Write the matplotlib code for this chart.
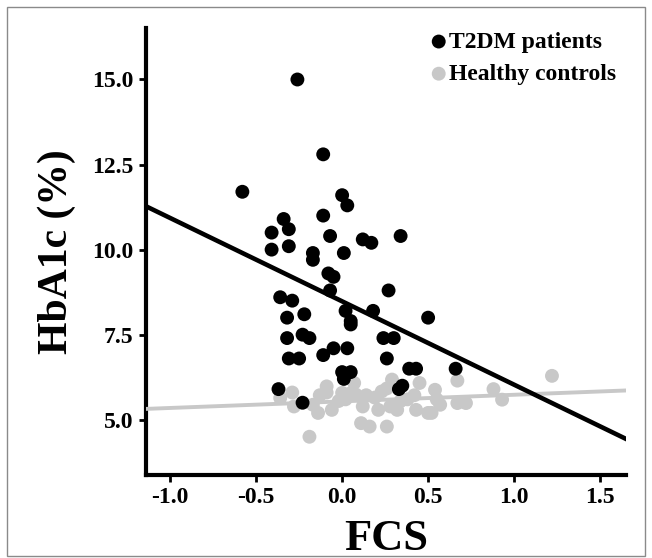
import numpy as np
import matplotlib
matplotlib.use("Agg")
import matplotlib.pyplot as plt
from matplotlib.patches import Rectangle

# T2DM patients (FCS, HbA1c)
t2dm_fcs = [-0.26, -0.11, -0.58, 0.00, 0.03, -0.34, -0.11, -0.41, -0.31, -0.41,
            -0.31, -0.07, 0.12, 0.17, 0.34, -0.17, -0.17, 0.01, -0.08, -0.05,
            -0.07, 0.27, -0.36, -0.29, 0.02, 0.18, 0.05, 0.05, -0.32, -0.22,
            0.50, -0.32, -0.23, -0.19, 0.24, 0.30, -0.05, 0.03, -0.11, -0.31,
            -0.25, 0.26, 0.00, 0.05, 0.01, 0.39, 0.43, 0.66, 0.33, 0.35,
            -0.37, -0.23]
t2dm_hba1c = [15.0, 12.8, 11.7, 11.6, 11.3, 10.9, 11.0, 10.5, 10.6, 10.0,
              10.1, 10.4, 10.3, 10.2, 10.4, 9.9, 9.7, 9.9, 9.3, 9.2,
              8.8, 8.8, 8.6, 8.5, 8.2, 8.2, 7.9, 7.8, 8.0, 8.1,
              8.0, 7.4, 7.5, 7.4, 7.4, 7.4, 7.1, 7.1, 6.9, 6.8,
              6.8, 6.8, 6.4, 6.4, 6.2, 6.5, 6.5, 6.5, 5.9, 6.0,
              5.9, 5.5]

# Healthy controls (FCS, HbA1c)
hc_fcs = [-0.36, -0.29, -0.28, -0.19, -0.14, -0.17, -0.13, -0.09, -0.09, -0.06,
          0.00, 0.05, 0.07, 0.08, 0.12, 0.11, 0.16, 0.14, 0.21, 0.23,
          0.26, 0.26, 0.28, 0.29, 0.32, 0.34, 0.38, 0.42, 0.43, 0.45,
          0.50, 0.52, 0.54, 0.55, 0.57, 0.67, 0.67, 0.72, 0.88, 0.93,
          1.22, 0.02, 0.19, -0.02]
hc_hba1c = [5.64, 5.80, 5.39, 4.50, 5.20, 5.44, 5.72, 5.98, 5.80, 5.29,
            5.79, 5.78, 6.08, 5.74, 5.39, 4.90, 4.80, 5.72, 5.29, 5.83,
            5.92, 4.80, 5.39, 6.18, 5.29, 5.55, 5.60, 5.72, 5.29, 6.08,
            5.20, 5.20, 5.88, 5.60, 5.44, 5.49, 6.15, 5.49, 5.90, 5.59,
            6.29, 5.60, 5.65, 5.55]

# fitted regression lines (slope, intercept)
t2dm_fit = (-2.45, 8.48)
hc_fit = (0.194, 5.54)

x_ticks = [-1.0, -0.5, 0.0, 0.5, 1.0, 1.5]
y_ticks = [5.0, 7.5, 10.0, 12.5, 15.0]

black = "#000000"
grey = "#c8c8c8"

plt.rcParams.update({
    "font.family": "Liberation Serif",
    "font.weight": "bold",
    "axes.unicode_minus": False,
})

fig = plt.figure(figsize=(6.52, 5.58), dpi=100)
ax = fig.add_axes([0.224, 0.149, 0.736, 0.80])

xlim = (-1.14, 1.65)
ylim = (3.38, 16.5)

xs = np.array(xlim)
ax.scatter(hc_fcs, hc_hba1c, s=100, color=grey, edgecolors="none", zorder=2,
           label="Healthy controls")
ax.plot(xs, hc_fit[0] * xs + hc_fit[1], color=grey, lw=2.8, zorder=3)
ax.scatter(t2dm_fcs, t2dm_hba1c, s=100, color=black, edgecolors="none", zorder=4,
           label="T2DM patients")
ax.plot(xs, t2dm_fit[0] * xs + t2dm_fit[1], color=black, lw=3.3, zorder=5)

ax.set_xlim(*xlim)
ax.set_ylim(*ylim)
ax.set_xticks(x_ticks)
ax.set_yticks(y_ticks)
ax.set_xticklabels([f"{v:.1f}" for v in x_ticks])
ax.set_yticklabels([f"{v:.1f}" for v in y_ticks])

for side in ("top", "right"):
    ax.spines[side].set_visible(False)
for side in ("left", "bottom"):
    ax.spines[side].set_linewidth(3)
ax.tick_params(axis="both", direction="out", length=5, width=2,
               labelsize=17, pad=4)
for lab in ax.get_xticklabels() + ax.get_yticklabels():
    lab.set_fontweight("bold")

ax.set_xlabel("FCS", fontsize=32, fontweight="bold", labelpad=8)
ax.set_ylabel("HbA1c (%)", fontsize=30, fontweight="bold", labelpad=12)

handles, labels = ax.get_legend_handles_labels()
leg = ax.legend(handles[::-1], labels[::-1], loc="upper right", frameon=False,
                handletextpad=-0.25, handlelength=1.4, labelspacing=0.45,
                borderaxespad=0.0, bbox_to_anchor=(1.0, 1.015),
                prop={"family": "Liberation Serif", "weight": "bold", "size": 17})

fig.patches.append(Rectangle((7 / 652, 2 / 558), 638 / 652, 549 / 558,
                             transform=fig.transFigure, fill=False,
                             edgecolor="#8a8a8a", lw=1))

fig.savefig("out.png", dpi=100)
